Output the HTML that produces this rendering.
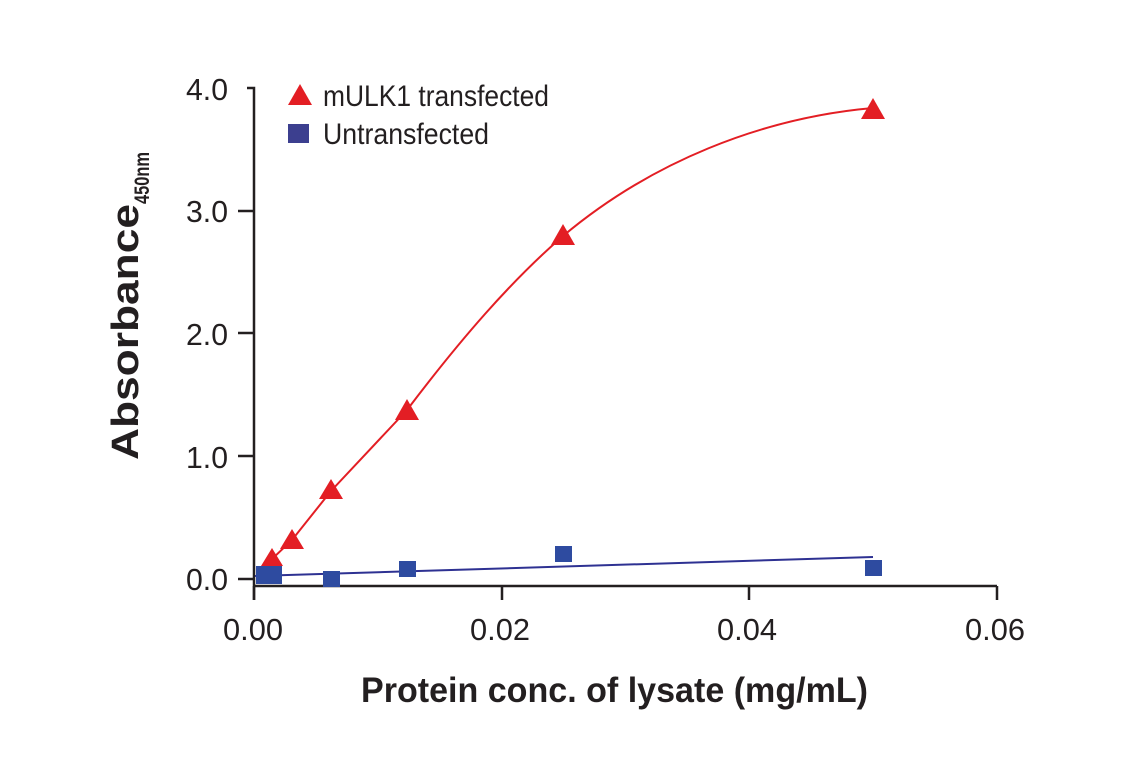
<!DOCTYPE html>
<html><head><style>
body{margin:0;background:#fff;}
svg text{font-family:"Liberation Sans Narrow","Liberation Sans",sans-serif;fill:#231f20;}
</style></head><body>
<svg width="1141" height="768" viewBox="0 0 1141 768">
<g stroke="#231f20" stroke-width="2.5" fill="none">
<path d="M247 88 H254 V600"/>
<path d="M238 579 H254"/>
<path d="M238 456 H254 M238 333 H254 M238 211 H254"/>
<path d="M254 586 H997 M997 586 V600 M749 586 V600 M502 586 V600 M254 586 V600"/>
</g>
<g font-size="31">
<text x="186" y="100" textLength="42" lengthAdjust="spacingAndGlyphs">4.0</text>
<text x="186" y="222" textLength="42" lengthAdjust="spacingAndGlyphs">3.0</text>
<text x="186" y="345" textLength="42" lengthAdjust="spacingAndGlyphs">2.0</text>
<text x="186" y="468" textLength="42" lengthAdjust="spacingAndGlyphs">1.0</text>
<text x="186" y="590" textLength="42" lengthAdjust="spacingAndGlyphs">0.0</text>
</g>
<g font-size="31">
<text x="223" y="640" textLength="60" lengthAdjust="spacingAndGlyphs">0.00</text>
<text x="470" y="640" textLength="60" lengthAdjust="spacingAndGlyphs">0.02</text>
<text x="717" y="640" textLength="60" lengthAdjust="spacingAndGlyphs">0.04</text>
<text x="965" y="640" textLength="60" lengthAdjust="spacingAndGlyphs">0.06</text>
</g>
<text x="361" y="702" font-size="35" font-weight="bold" textLength="507" lengthAdjust="spacingAndGlyphs">Protein conc. of lysate (mg/mL)</text>
<text transform="translate(138,460) rotate(-90)" font-size="38" font-weight="bold"><tspan textLength="256" lengthAdjust="spacingAndGlyphs">Absorbance</tspan><tspan font-size="21" dy="11" textLength="52" lengthAdjust="spacingAndGlyphs">450nm</tspan></text>
<path d="M258 576 L272 559 L292 540 L331 491 L407 410 C460 340 510 282 563 236 C650 163 760 118 873 108" stroke="#e31e24" stroke-width="2" fill="none"/>
<path d="M255 576 L873 557" stroke="#2e3192" stroke-width="2" fill="none"/>
<g fill="#e31e24">
<path d="M272 548 L283 566 L261 566Z"/>
<path d="M292 529 L304 549 L280 549Z"/>
<path d="M331 479 L343 499 L319 499Z"/>
<path d="M407 399 L419 420 L395 420Z"/>
<path d="M563 224 L575 245 L551 245Z"/>
<path d="M873 98 L885 119 L861 119Z"/>
<path d="M300 84 L312 105 L288 105Z"/>
</g>
<g fill="#2e4ba0">
<rect x="256" y="566" width="26" height="18"/>
<rect x="323" y="571" width="17" height="16"/>
<rect x="399" y="561" width="17" height="16"/>
<rect x="555" y="546" width="17" height="16"/>
<rect x="865" y="560" width="17" height="16"/>
</g>
<rect x="288" y="124" width="21" height="19" fill="#3c3f8f"/>
<g font-size="30">
<text x="323" y="106" textLength="226" lengthAdjust="spacingAndGlyphs">mULK1 transfected</text>
<text x="323" y="144" textLength="166" lengthAdjust="spacingAndGlyphs">Untransfected</text>
</g>
</svg>
</body></html>
